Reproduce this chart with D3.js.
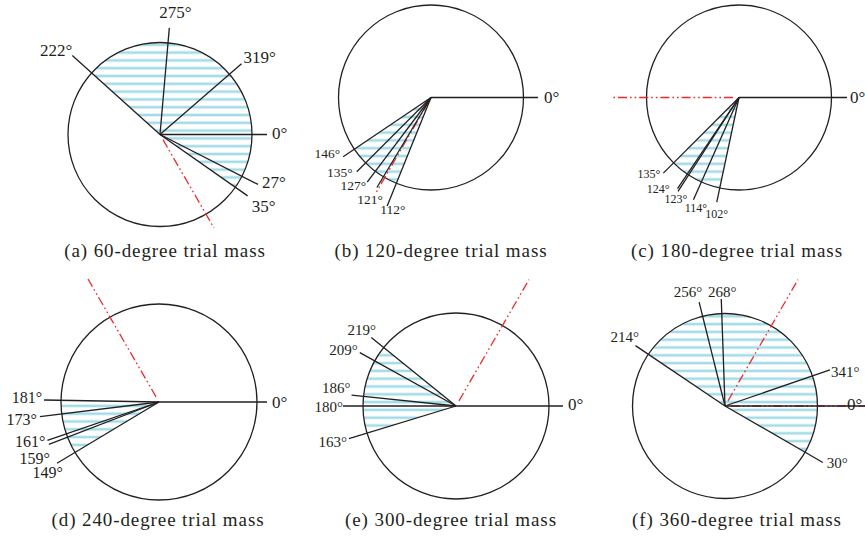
<!DOCTYPE html>
<html>
<head>
<meta charset="utf-8">
<script src="https://cdn.jsdelivr.net/npm/d3@7"></script>
<style>
  body { margin: 0; background: #fff; }
  text { font-family: "Liberation Serif", "Times New Roman", serif; fill: #231f20; }
</style>
</head>
<body>
<svg id="chart" width="865" height="544"></svg>
<script>
// values (degrees, clockwise from the 0° reference line)
const captions = [
  '(a) 60-degree trial mass', '(b) 120-degree trial mass', '(c) 180-degree trial mass',
  '(d) 240-degree trial mass', '(e) 300-degree trial mass', '(f) 360-degree trial mass'
]
const trialAngles = [[60], [120], [180], [240], [300], [360, 300]]
const responseAngles = [
  [0, 27, 35, 222, 275, 319],
  [0, 112, 121, 127, 135, 146],
  [0, 102, 114, 123, 124, 135],
  [0, 149, 159, 161, 173, 181],
  [0, 163, 180, 186, 209, 219],
  [0, 30, 214, 256, 268, 341]
]
const shadedFrom = [222, 112, 102, 149, 163, 214]
const shadedTo = [35, 146, 135, 181, 219, 30]

// layout: centre, radius, leader length and label nudge for each panel
const layout = [
  { cx: 160, cy: 134.5, r: 92, fs: 17, capX: 165, capY: 257,
    len: { 0: 107, 27: 110, 35: 107, 222: 118, 275: 107, 319: 108 },
    lab: { 0: [5, 4.5, 'start'], 27: [4, 4, 'start'], 35: [4, 16, 'start'], 222: [0, 0, 'end'], 275: [6, -10, 'middle'], 319: [2, -1, 'start'] },
    trialLen: { 60: 108 } },
  { cx: 431, cy: 97.5, r: 92.5, fs: 13.5, capX: 441, capY: 257,
    len: { 0: 107, 112: 117, 121: 105, 127: 106, 135: 105, 146: 106 },
    lab: { 0: [6, 5.5, 'start'], 112: [-7, 8.5, 'start'], 121: [6, 16, 'end'], 127: [-1, 8, 'end'], 135: [-4, 5.5, 'end'], 146: [-3, 1, 'end'] },
    trialLen: { 120: 110 } },
  { cx: 739, cy: 97.5, r: 92.5, fs: 12, capX: 737, capY: 257,
    len: { 0: 108, 102: 107, 114: 112, 123: 112, 124: 110, 135: 107 },
    lab: { 0: [3, 5, 'start'], 102: [0, 16, 'middle'], 114: [2.5, 12, 'middle'], 123: [-2, 11.5, 'middle'], 124: [-8, 4, 'end'], 135: [-3, 4.5, 'end'] },
    trialLen: { 180: 127 } },
  { cx: 159, cy: 402, r: 98, fs: 16, capX: 158, capY: 526,
    len: { 0: 108, 149: 119, 159: 118, 161: 118, 173: 120, 181: 115 },
    lab: { 0: [5, 6, 'start'], 149: [6, 14.5, 'end'], 159: [1, 19.5, 'end'], 161: [-2, 7, 'end'], 173: [-3, 8, 'end'], 181: [-2, 3, 'end'] },
    trialLen: { 240: 142 } },
  { cx: 456, cy: 406, r: 93, fs: 15, capX: 451, capY: 526,
    len: { 0: 107, 163: 112, 180: 113, 186: 105, 209: 110, 219: 109 },
    lab: { 0: [5, 4, 'start'], 163: [-2, 8, 'end'], 180: [0, 6, 'end'], 186: [-1, -2, 'end'], 209: [-2, 2.3, 'end'], 219: [4.7, -2.4, 'end'] },
    trialLen: { 300: 146 } },
  { cx: 725, cy: 406, r: 92.5, fs: 15, capX: 737, capY: 526,
    len: { 0: 140, 30: 113, 214: 108, 256: 107, 268: 107, 341: 111 },
    lab: { 0: [-18, 4, 'start'], 30: [4, 5.5, 'start'], 214: [3.5, -3.6, 'end'], 256: [3, -5, 'end'], 268: [1, -2, 'middle'], 341: [1, 7, 'start'] },
    trialLen: { 360: 140, 300: 146 } }
]

const ink = '#231f20'
const rad = d3.scaleLinear().domain([0, 360]).range([0, 2 * Math.PI])
// screen angle (clockwise from 3 o'clock) -> d3 angle (clockwise from 12 o'clock)
const toD3 = a => rad(a + 90)

const svg = d3.select('#chart')

// horizontal hatching used for the shaded sectors
svg.append('defs')
  .append('pattern')
  .attr('id', 'hatch')
  .attr('patternUnits', 'userSpaceOnUse')
  .attr('width', 10)
  .attr('height', 7.8)
  .append('rect')
  .attr('x', 0)
  .attr('y', 2.6)
  .attr('width', 10)
  .attr('height', 2.6)
  .attr('fill', '#a3dbe7')

layout.forEach(function (p, i) {
  const g = svg.append('g').attr('transform', `translate(${p.cx},${p.cy})`)

  // shaded sector
  const a0 = shadedFrom[i]
  let a1 = shadedTo[i]
  if (a1 < a0) a1 += 360
  g.append('path')
    .attr('d', d3.arc().innerRadius(0).outerRadius(p.r).startAngle(toD3(a0)).endAngle(toD3(a1))())
    .attr('fill', 'url(#hatch)')

  g.append('circle')
    .attr('r', p.r)
    .attr('fill', 'none')
    .attr('stroke', ink)
    .attr('stroke-width', 1.3)

  // trial mass direction (red dash-dot-dot)
  trialAngles[i].forEach(function (a) {
    const s = d3.pointRadial(toD3(a), 6)
    const e = d3.pointRadial(toD3(a), p.trialLen[a])
    g.append('line')
      .attr('x1', s[0]).attr('y1', s[1])
      .attr('x2', e[0]).attr('y2', e[1])
      .attr('stroke', '#ee2a2a')
      .attr('stroke-width', 1.3)
      .attr('stroke-dasharray', '9 3 1.6 3 1.6 3')
  })

  // measured response directions
  responseAngles[i].forEach(function (a) {
    const e = d3.pointRadial(toD3(a), p.len[a])
    g.append('line')
      .attr('x1', 0).attr('y1', 0)
      .attr('x2', e[0]).attr('y2', e[1])
      .attr('stroke', ink)
      .attr('stroke-width', 1.3)
    const o = p.lab[a]
    g.append('text')
      .attr('x', e[0] + o[0])
      .attr('y', e[1] + o[1])
      .attr('text-anchor', o[2])
      .attr('font-size', a === 0 ? 17 : p.fs)
      .text(a + '°')
  })

  svg.append('text')
    .attr('x', p.capX)
    .attr('y', p.capY)
    .attr('text-anchor', 'middle')
    .attr('font-size', 19)
    .attr('letter-spacing', 0.9)
    .text(captions[i])
})
</script>
</body>
</html>
